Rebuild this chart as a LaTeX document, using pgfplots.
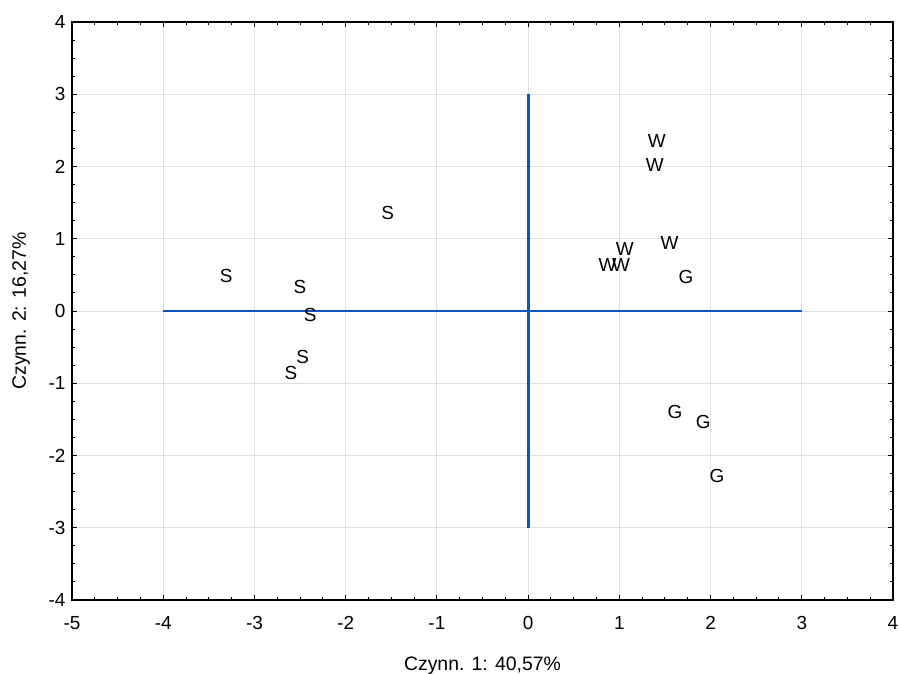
\documentclass[border=0pt]{standalone}
\usepackage{fontspec}
\setmainfont{Liberation Sans}
\usepackage{pgfplots}
\pgfplotsset{compat=1.18}
\definecolor{LineBlue}{RGB}{10,84,200}
\definecolor{GridGray}{RGB}{224,224,224}

\begin{document}
\begin{tikzpicture}[x=1bp,y=1bp]
\useasboundingbox (-72bp,-74bp) rectangle (827bp,600bp);
\begin{axis}[
    scale only axis,
    at={(0,0)}, anchor=south west,
    width=821bp, height=578bp,
    xmin=-5, xmax=4, ymin=-4, ymax=4,
    xtick={-5,...,4}, ytick={-4,...,4},
    minor tick num=3,
    tick align=inside,
    major tick length=5bp, minor tick length=3bp,
    every tick/.style={black, line width=1pt},
    grid=major,
    major grid style={GridGray, line width=0.8pt},
    axis line style={black, line width=1.6pt},
    /pgf/number format/assume math mode=true,
    tick label style={font=\fontsize{19}{22}\selectfont},
    label style={font=\fontsize{19.5}{23}\selectfont},
    xlabel={Czynn. 1: 40,57\%},
    ylabel={Czynn. 2: 16,27\%},
    xlabel style={yshift=-20bp},
    ylabel style={yshift=12bp},
    xticklabel style={yshift=-13bp},
    yticklabel style={xshift=-3bp},
]
\addplot[LineBlue, line width=1.9pt] coordinates {(-4,0) (0,0)};
\addplot[LineBlue, line width=3pt] coordinates {(0,0) (3,0)};
\addplot[LineBlue, line width=3pt] coordinates {(0,-3) (0,3)};

\addplot[
    only marks, mark=none,
    point meta=explicit symbolic,
    nodes near coords,
    nodes near coords align=center,
    every node near coord/.style={font=\fontsize{19}{22}\selectfont, black, inner sep=0pt, anchor=center},
] table[meta=lab] {
x y lab
1.41 2.35 W
1.39 2.02 W
1.55 0.94 W
1.06 0.86 W
0.87 0.64 W
1.02 0.64 W
1.73 0.47 G
-1.54 1.36 S
-3.31 0.48 S
-2.50 0.33 S
-2.39 -0.06 S
-2.47 -0.64 S
-2.60 -0.86 S
1.61 -1.40 G
1.92 -1.54 G
2.07 -2.28 G
};
\end{axis}
\end{tikzpicture}
\end{document}
